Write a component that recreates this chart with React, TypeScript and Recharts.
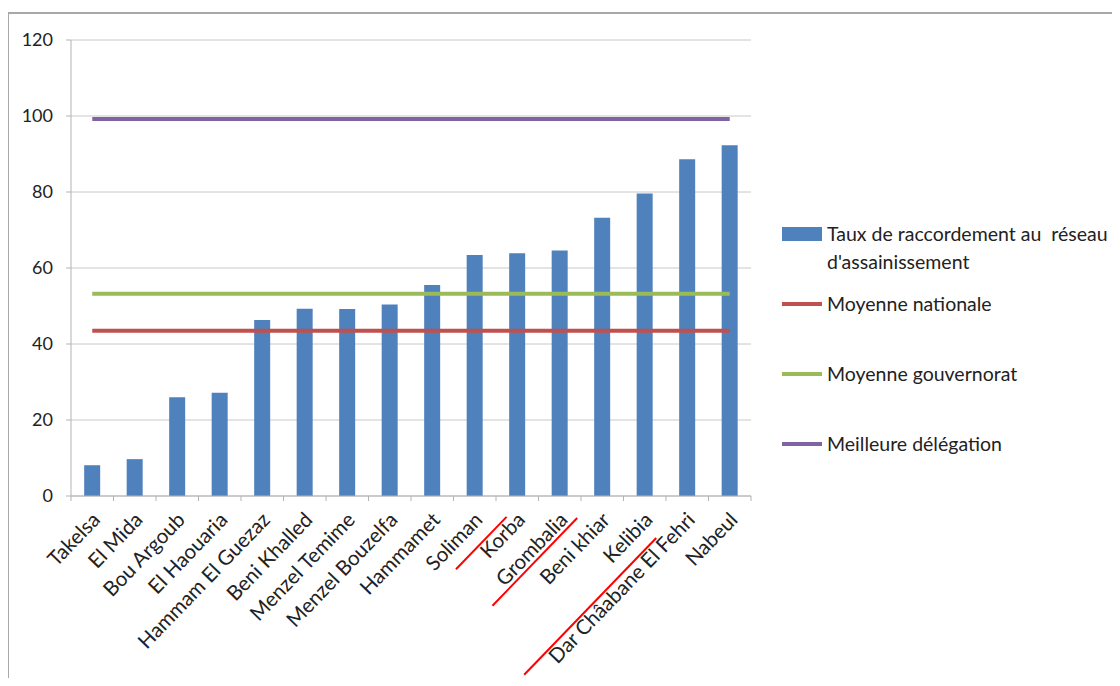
import React from 'react';
import { ComposedChart, Bar, Line, XAxis, YAxis, CartesianGrid, Legend } from 'recharts';

// Délégations du gouvernorat de Nabeul, classées par taux de raccordement
const delegations = [
  'Takelsa', 'El Mida', 'Bou Argoub', 'El Haouaria', 'Hammam El Guezaz', 'Beni Khalled',
  'Menzel Temime', 'Menzel Bouzelfa', 'Hammamet', 'Soliman', 'Korba', 'Grombalia',
  'Beni khiar', 'Kelibia', 'Dar Châabane El Fehri', 'Nabeul',
];
const tauxRaccordement = [8.1, 9.7, 26.0, 27.2, 46.3, 49.3, 49.2, 50.4, 55.5, 63.4, 63.9, 64.6, 73.2, 79.6, 88.6, 92.3];
const moyenneNationale = 43.5;
const moyenneGouvernorat = 53.2;
const meilleureDelegation = 99.2;
const yTicks = [0, 20, 40, 60, 80, 100, 120];

const seriesNames = [
  "Taux de raccordement au  réseau d'assainissement",
  'Moyenne nationale',
  'Moyenne gouvernorat',
  'Meilleure délégation',
];
const seriesColors = ['#4F81BD', '#C0504D', '#9BBB59', '#8064A2'];

// red marks drawn alongside some axis labels
const markedAbove = ['Korba', 'Dar Châabane El Fehri'];
const markedBelow = ['Grombalia'];

const FONT = 'Lato, "Open Sans", sans-serif';
const TICK_SIZE = 18;
const LABEL_SIZE = 20.5;
const LEGEND_SIZE = 19.5;
const TEXT = '#222222';
const AXIS = '#b3b3b3';
const ANGLE = -46;

const data = delegations.map((name, i) => ({
  name,
  taux: tauxRaccordement[i],
  nat: moyenneNationale,
  gouv: moyenneGouvernorat,
  best: meilleureDelegation,
}));

let measureCtx: CanvasRenderingContext2D | null = null;
function textWidth(s: string): number {
  if (!measureCtx) {
    measureCtx = document.createElement('canvas').getContext('2d');
  }
  if (!measureCtx) return s.length * LABEL_SIZE * 0.5;
  measureCtx.font = `${LABEL_SIZE}px Lato`;
  return measureCtx.measureText(s).width;
}

function XTick(props: any) {
  const { x, y, payload, index, visibleTicksCount } = props;
  const half = payload?.offset ?? 0;
  const label = String(payload.value);
  const len = textWidth(label);
  const ax = x + 9;
  const ay = y + 25;
  return (
    <g>
      <line x1={x - half} y1={y} x2={x - half} y2={y + 5} stroke={AXIS} />
      {index === visibleTicksCount - 1 && (
        <line x1={x + half} y1={y} x2={x + half} y2={y + 5} stroke={AXIS} />
      )}
      <g transform={`translate(${ax},${ay}) rotate(${ANGLE})`}>
        <text x={0} y={0} textAnchor="end" fill={TEXT} fontSize={LABEL_SIZE} fontFamily={FONT}>
          {label}
        </text>
        {markedAbove.includes(label) && (
          <line x1={-0.2 * len} y1={-17} x2={-(len + 30)} y2={-17} stroke="#ff0000" strokeWidth={2} />
        )}
        {markedBelow.includes(label) && (
          <line x1={8} y1={4} x2={-(len + 22)} y2={4} stroke="#ff0000" strokeWidth={2} />
        )}
      </g>
    </g>
  );
}

function LegendBlock() {
  return (
    <div style={{ fontFamily: FONT, fontSize: LEGEND_SIZE, color: TEXT, lineHeight: '28px' }}>
      {seriesNames.map((name, i) => (
        <div key={name} style={{ display: 'flex', alignItems: 'flex-start', height: 70 }}>
          <div style={{ width: 40, height: 28, display: 'flex', alignItems: 'center', flex: 'none' }}>
            <div
              style={{
                width: 40,
                height: i === 0 ? 14 : 4,
                background: seriesColors[i],
              }}
            />
          </div>
          <div style={{ marginLeft: 5, width: 290, whiteSpace: 'pre-wrap' }}>{name}</div>
        </div>
      ))}
    </div>
  );
}

export default function App() {
  return (
    <div style={{ position: 'relative', width: 1112, height: 678, marginBottom: -8, background: '#fff' }}>
      <div
        style={{
          position: 'absolute',
          left: -1,
          top: 4,
          right: 0,
          bottom: 0,
          borderLeft: '2px solid #a8a8a8',
          borderTop: '2px solid #a8a8a8',
          pointerEvents: 'none',
        }}
      />
      <ComposedChart
        width={1112}
        height={678}
        data={data}
        margin={{ top: 32, right: 369, left: 0, bottom: 0 }}
        barCategoryGap="31%"
      >
        <CartesianGrid vertical={false} stroke="#c8c8c8" />
        <XAxis
          dataKey="name"
          height={190}
          interval={0}
          tickLine={false}
          tickSize={0}
          tickMargin={0}
          axisLine={{ stroke: AXIS }}
          tick={(p: any) => <XTick {...p} />}
        />
        <YAxis
          domain={[0, 120]}
          ticks={yTicks}
          interval={0}
          width={63}
          tickSize={5}
          tickMargin={13}
          axisLine={{ stroke: AXIS }}
          tickLine={{ stroke: AXIS }}
          tick={{ fill: TEXT, fontSize: TICK_SIZE, fontFamily: FONT }}
        />
        <Bar dataKey="taux" name={seriesNames[0]} fill={seriesColors[0]} isAnimationActive={false} />
        <Line dataKey="nat" name={seriesNames[1]} stroke={seriesColors[1]} strokeWidth={4} dot={false} activeDot={false} isAnimationActive={false} />
        <Line dataKey="gouv" name={seriesNames[2]} stroke={seriesColors[2]} strokeWidth={4} dot={false} activeDot={false} isAnimationActive={false} />
        <Line dataKey="best" name={seriesNames[3]} stroke={seriesColors[3]} strokeWidth={4} dot={false} activeDot={false} isAnimationActive={false} />
        <Legend
          layout="vertical"
          align="center"
          verticalAlign="middle"
          wrapperStyle={{ left: 774, top: 212, width: 335 }}
          content={() => <LegendBlock />}
        />
      </ComposedChart>
    </div>
  );
}
